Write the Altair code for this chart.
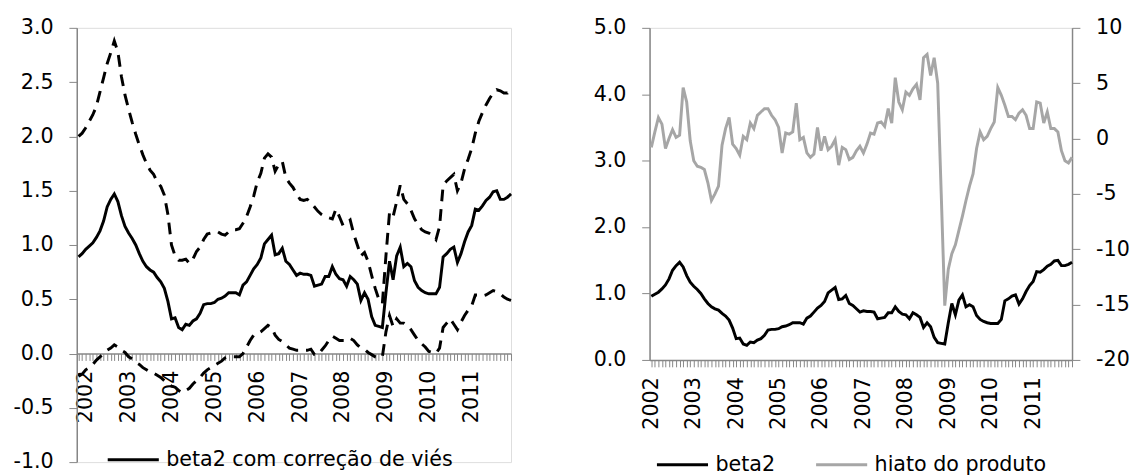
import altair as alt
import pandas as pd

# ---------------- data ----------------
# month index: 0 = Jan 2002, 12 = Jan 2003, ...
t_left = list(range(-2, 120))
t_right = list(range(0, 120))
years = list(range(2002, 2012))

beta2 = [
    0.89, 0.92,
    0.96, 0.99, 1.02, 1.07, 1.13, 1.22, 1.35, 1.42, 1.47, 1.40, 1.27, 1.17,
    1.11, 1.06, 1.00, 0.92, 0.85, 0.80, 0.77, 0.75, 0.70, 0.66, 0.60, 0.48,
    0.32, 0.33, 0.24, 0.22, 0.27, 0.26, 0.30, 0.32, 0.37, 0.45, 0.46, 0.46,
    0.47, 0.50, 0.51, 0.53, 0.56, 0.56, 0.56, 0.54, 0.63, 0.66, 0.72, 0.78,
    0.82, 0.88, 1.01, 1.05, 1.09, 0.91, 0.92, 0.97, 0.85, 0.82, 0.77, 0.72,
    0.74, 0.73, 0.73, 0.72, 0.62, 0.63, 0.64, 0.71, 0.71, 0.80, 0.73, 0.69,
    0.68, 0.62, 0.71, 0.68, 0.64, 0.49, 0.56, 0.50, 0.34, 0.26, 0.25, 0.24,
    0.56, 0.85, 0.68, 0.90, 0.98, 0.80, 0.83, 0.80, 0.67, 0.61, 0.58, 0.56,
    0.55, 0.55, 0.55, 0.61, 0.89, 0.92, 0.96, 0.98, 0.84, 0.92, 1.03, 1.12,
    1.18, 1.33, 1.32, 1.36, 1.41, 1.44, 1.49, 1.50, 1.42, 1.42, 1.44, 1.47,
]

upper = [
    2.00, 2.03,
    2.08, 2.14, 2.20, 2.28, 2.41, 2.54, 2.67, 2.77, 2.88, 2.78, 2.55, 2.38,
    2.25, 2.13, 2.02, 1.92, 1.83, 1.75, 1.69, 1.65, 1.58, 1.54, 1.46, 1.28,
    1.00, 0.90, 0.86, 0.86, 0.87, 0.83, 0.87, 0.94, 0.98, 1.05, 1.10, 1.11,
    1.12, 1.12, 1.10, 1.09, 1.12, 1.14, 1.14, 1.15, 1.20, 1.26, 1.35, 1.45,
    1.58, 1.66, 1.80, 1.84, 1.81, 1.68, 1.74, 1.77, 1.62, 1.57, 1.53, 1.47,
    1.42, 1.41, 1.42, 1.39, 1.35, 1.31, 1.28, 1.26, 1.25, 1.24, 1.33, 1.26,
    1.18, 1.20, 1.23, 1.10, 1.00, 0.90, 0.93, 0.85, 0.72, 0.60, 0.50, 0.46,
    0.90, 1.30, 1.26, 1.40, 1.55, 1.42, 1.38, 1.32, 1.24, 1.19, 1.14, 1.12,
    1.11, 1.09, 1.05, 1.17, 1.55, 1.59, 1.62, 1.65, 1.50, 1.57, 1.70, 1.79,
    1.89, 2.03, 2.14, 2.22, 2.29, 2.35, 2.40, 2.43, 2.42, 2.40, 2.40, 2.45,
]

lower = [
    -0.21, -0.19,
    -0.15, -0.13, -0.10, -0.06, -0.03, 0.00, 0.03, 0.05, 0.08, 0.06, 0.03, 0.01,
    -0.03, -0.05, -0.08, -0.10, -0.13, -0.15, -0.17, -0.18, -0.20, -0.22, -0.25, -0.28,
    -0.30, -0.31, -0.34, -0.36, -0.34, -0.32, -0.28, -0.25, -0.22, -0.18, -0.15, -0.13,
    -0.11, -0.09, -0.07, -0.04, -0.03, -0.03, -0.03, -0.03, 0.00, 0.06, 0.12, 0.17,
    0.18, 0.20, 0.23, 0.26, 0.24, 0.17, 0.13, 0.11, 0.08, 0.05, 0.04, 0.03,
    0.03, 0.03, 0.03, 0.04, -0.01, -0.01, 0.03, 0.07, 0.12, 0.16, 0.14, 0.12,
    0.12, 0.12, 0.14, 0.12, 0.08, 0.05, 0.04, 0.01, -0.01, -0.03, -0.04, -0.03,
    0.20, 0.35, 0.25, 0.32, 0.28, 0.28, 0.26, 0.22, 0.17, 0.12, 0.09, 0.06,
    0.02, 0.01, 0.00, 0.05, 0.24, 0.28, 0.32, 0.27, 0.22, 0.29, 0.35, 0.40,
    0.44, 0.54, 0.54, 0.53, 0.54, 0.56, 0.58, 0.57, 0.55, 0.52, 0.50, 0.49,
]

hiato = [
    -0.8, 0.6, 1.9, 1.3, -0.9, 0.0, 0.8, 0.1, 0.3, 4.6, 3.3, -0.2,
    -2.0, -2.5, -2.6, -2.8, -4.0, -5.6, -5.0, -4.3, -0.6, 0.9, 1.9, -0.5,
    -0.9, -1.5, 0.2, -0.1, 1.4, 0.9, 2.1, 2.4, 2.7, 2.7, 2.1, 1.7,
    1.0, -1.3, 0.5, 0.4, 0.6, 3.2, -0.1, 0.1, -1.3, -1.7, -1.4, 1.0,
    -1.1, 0.2, -1.0, -0.7, -0.1, -2.4, -0.8, -1.0, -1.9, -1.7, -1.1, -0.7,
    -1.3, -0.5, 0.5, 0.4, 1.4, 1.5, 1.1, 2.7, 1.4, 5.5, 3.3, 2.6,
    4.2, 3.9, 4.5, 4.9, 3.5, 7.3, 7.6, 5.7, 7.3, 5.0, -5.0, -15.1,
    -11.8, -10.4, -9.6, -8.3, -7.0, -5.6, -4.3, -3.2, -0.9, 0.6, -0.1, 0.2,
    0.9, 1.5, 4.6, 3.9, 3.0, 2.0, 2.0, 1.7, 2.3, 2.6, 2.1, 0.9,
    0.9, 3.3, 3.2, 1.4, 2.4, 0.9, 0.9, 0.6, -1.1, -2.0, -2.2, -1.7,
]

left_ticks = [-1.0, -0.5, 0.0, 0.5, 1.0, 1.5, 2.0, 2.5, 3.0]
right_left_ticks = [0, 1, 2, 3, 4, 5]
right_right_ticks = [-20, -15, -10, -5, 0, 5, 10]

series_left = ["beta2 com correção de viés"]
series_right = ["beta2", "hiato do produto"]

# ---------------- styling ----------------
FONT = "DejaVu Sans"
FS = 21
GRAY = "#868686"
HIATO_GRAY = "#a6a6a6"

year_expr = ("datum.value % 12 == 0 && datum.value >= 0 ? "
             "toString(" + str(years[0]) + " + datum.value / 12) : ''")


def num_expr(spec):
    return "replace(format(datum.value, '" + spec + "'), '\u2212', '-')"


def x_axis(values, offset):
    return alt.Axis(values=values, labelExpr=year_expr, labelAngle=270,
                    labelAlign="right", labelBaseline="middle", labelPadding=10,
                    labelOverlap=False, labelFlush=False, tickSize=7,
                    tickColor=GRAY, domainColor=GRAY, domainWidth=1.5,
                    offset=offset, grid=False, title=None, labelFont=FONT,
                    labelFontSize=FS, labelColor="black")


def y_axis(values, spec, orient="left"):
    return alt.Axis(values=values, labelExpr=num_expr(spec), orient=orient,
                    tickSize=8, labelPadding=16, tickColor=GRAY,
                    domainColor=GRAY, domainWidth=1.5, grid=False, title=None,
                    labelFont=FONT, labelFontSize=FS, labelColor="black",
                    labelOverlap=False, labelFlush=False)


def legend(x, y, col_pad=10):
    return alt.Legend(orient="none", legendX=x, legendY=y, title=None,
                      direction="horizontal", symbolType="stroke",
                      symbolSize=2704, symbolStrokeWidth=3, labelFont=FONT,
                      labelFontSize=FS, labelColor="black", labelLimit=500,
                      labelOffset=6, columnPadding=col_pad)


# ---------------- left panel ----------------
LW, LH = 442, 442
left_df = pd.DataFrame({"t": t_left, "beta2": beta2, "upper": upper, "lower": lower})
x_left = alt.X("t:Q", scale=alt.Scale(domain=[t_left[0] - 0.5, t_left[-1]], nice=False, zero=False),
               axis=x_axis(t_left, -LH * (0 - left_ticks[0]) / (left_ticks[-1] - left_ticks[0])))
y_left_scale = alt.Scale(domain=[left_ticks[0], left_ticks[-1]], nice=False, zero=False)

bands = alt.Chart(left_df).transform_fold(["upper", "lower"], as_=["band", "value"]).mark_line(
    strokeWidth=3, strokeDash=[12, 8], color="black"
).encode(
    x=x_left,
    y=alt.Y("value:Q", scale=y_left_scale, axis=y_axis(left_ticks, ".1f")),
    detail="band:N",
)

solid = alt.Chart(left_df).transform_calculate(series="'" + series_left[0] + "'").mark_line(
    strokeWidth=3
).encode(
    x=x_left,
    y=alt.Y("beta2:Q", scale=y_left_scale, axis=y_axis(left_ticks, ".1f")),
    color=alt.Color("series:N", scale=alt.Scale(domain=series_left, range=["#000000"]),
                    legend=legend(30, 412)),
)

left = alt.layer(bands, solid).properties(width=LW, height=LH)

# ---------------- right panel ----------------
RW, RH = 430, 338
right_df = pd.DataFrame({"t": t_right, "beta2": beta2[2:], "hiato": hiato})
x_right = alt.X("t:Q", scale=alt.Scale(domain=[t_right[0] - 0.5, t_right[-1]], nice=False, zero=False),
                axis=x_axis(t_right, 0))
color_right = alt.Color("series:N", scale=alt.Scale(domain=series_right,
                                                    range=["#000000", HIATO_GRAY]),
                        legend=legend(6, 417, col_pad=35))

hiato_line = alt.Chart(right_df).transform_calculate(series="'" + series_right[1] + "'").mark_line(
    strokeWidth=3
).encode(
    x=x_right,
    y=alt.Y("hiato:Q", scale=alt.Scale(domain=[right_right_ticks[0], right_right_ticks[-1]],
                                       nice=False, zero=False),
            axis=y_axis(right_right_ticks, "d", orient="right")),
    color=color_right,
)

beta_line = alt.Chart(right_df).transform_calculate(series="'" + series_right[0] + "'").mark_line(
    strokeWidth=3
).encode(
    x=x_right,
    y=alt.Y("beta2:Q", scale=alt.Scale(domain=[right_left_ticks[0], right_left_ticks[-1]],
                                       nice=False, zero=False),
            axis=y_axis(right_left_ticks, ".1f", orient="left")),
    color=color_right,
)

right = alt.layer(hiato_line, beta_line).resolve_scale(y="independent").properties(
    width=RW, height=RH)

chart = alt.hconcat(left, right, spacing=72).resolve_scale(
    color="independent").resolve_legend(color="independent").properties(
    padding={"left": 4, "top": 4, "right": 0, "bottom": 0}
).configure_view(stroke=None).configure(font=FONT)

chart.save("out.html", embed_options={"renderer": "svg", "actions": False})
